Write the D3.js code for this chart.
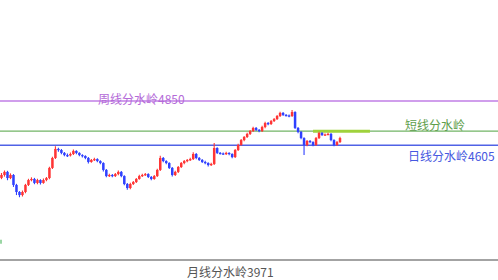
<!DOCTYPE html>
<html><head><meta charset="utf-8">
<script src="https://cdn.jsdelivr.net/npm/d3@7/dist/d3.min.js"></script>
<style>html,body{margin:0;padding:0;background:#fff;}svg{display:block;}</style>
</head><body>
<svg id="c" width="498" height="280"></svg>
<script>
const opens = [4425,4441,4458,4424,4441,4386,4347,4330,4347,4386,4413,4419,4397,4413,4397,4413,4424,4480,4535,4585,4579,4563,4551,4549,4557,4574,4563,4551,4546,4535,4513,4524,4529,4518,4507,4469,4435,4441,4435,4446,4458,4435,4391,4369,4391,4402,4419,4435,4441,4446,4430,4419,4435,4469,4535,4518,4507,4480,4441,4458,4485,4507,4518,4524,4529,4557,4535,4524,4513,4507,4496,4502,4590,4563,4560,4557,4563,4557,4540,4579,4607,4634,4651,4668,4684,4701,4690,4684,4706,4728,4723,4739,4750,4767,4784,4773,4770,4767,4789,4701,4679,4645,4607,4629,4623,4607,4645,4673,4662,4665,4668,4634,4607,4623];
const closes = [4441,4458,4424,4441,4386,4347,4330,4347,4386,4413,4419,4397,4413,4397,4413,4424,4480,4535,4585,4579,4563,4551,4549,4557,4574,4563,4551,4546,4535,4513,4524,4529,4518,4507,4469,4435,4441,4435,4446,4458,4435,4391,4369,4391,4402,4419,4435,4441,4446,4430,4419,4435,4469,4535,4518,4507,4480,4441,4458,4485,4507,4518,4524,4529,4557,4535,4524,4513,4507,4496,4502,4590,4563,4560,4557,4563,4557,4540,4579,4607,4634,4651,4668,4684,4701,4690,4684,4706,4728,4723,4739,4750,4767,4784,4773,4770,4767,4789,4701,4679,4645,4607,4629,4623,4607,4645,4673,4662,4665,4668,4634,4607,4623,4645];
const highs = [4452,4466,4464,4450,4446,4392,4352,4355,4392,4420,4428,4425,4420,4418,4421,4430,4486,4542,4600,4592,4584,4568,4560,4565,4582,4578,4567,4556,4550,4540,4530,4536,4534,4522,4512,4474,4448,4446,4452,4466,4463,4440,4396,4398,4408,4425,4442,4448,4452,4451,4435,4441,4475,4548,4540,4523,4512,4485,4464,4491,4513,4524,4530,4536,4566,4562,4540,4529,4519,4512,4508,4618,4595,4568,4565,4569,4567,4561,4585,4614,4640,4657,4674,4690,4708,4706,4695,4713,4735,4734,4745,4756,4773,4790,4789,4778,4775,4800,4794,4706,4684,4650,4635,4634,4628,4651,4680,4678,4671,4674,4673,4638,4629,4652];
const lows = [4418,4432,4412,4418,4375,4330,4318,4322,4340,4380,4406,4390,4390,4388,4392,4407,4418,4474,4530,4570,4556,4545,4540,4543,4552,4556,4545,4538,4528,4505,4508,4518,4512,4500,4460,4428,4430,4428,4430,4440,4428,4384,4360,4362,4386,4396,4414,4430,4436,4424,4412,4414,4430,4463,4512,4500,4474,4432,4436,4452,4480,4501,4512,4518,4524,4528,4518,4507,4500,4488,4490,4496,4557,4554,4551,4552,4550,4533,4535,4574,4602,4628,4646,4662,4679,4684,4677,4679,4700,4716,4718,4734,4745,4762,4767,4764,4760,4762,4695,4672,4638,4551,4600,4616,4600,4602,4640,4656,4657,4660,4628,4600,4602,4618];

const levelValues = [4850, 4683, 4605, 3971];
const levelLabels = ["周线分水岭4850", "短线分水岭", "日线分水岭4605", "月线分水岭3971"];
const shortZone = {from: 104, to: 123, value: 4683};
const sideMark = [{i: 0, value: 4072}];

const svg = d3.select("#c");
const W = 498, H = 280;
const n = closes.length;
const x = d3.scaleLinear().domain([0, n - 1]).range([1.5, 340]);
const y = d3.scaleLinear().domain([4850, 3971]).range([101, 260]);

const lineColors = ["#c07ee6", "#72b466", "#5062e6", "#a3a3a3"];
const lineWidths = [1.6, 1.3, 1.6, 2.2];
const labelColors = ["#b46ad8", "#5e9e4c", "#4658e0", "#555555"];
const labelX = [98, 405, 408, 187];
const labelDy = [3, -1.5, 15.5, 17];

svg.append("g").selectAll("line").data(levelValues).join("line")
  .attr("x1", 0).attr("x2", W)
  .attr("y1", d => y(d)).attr("y2", d => y(d))
  .attr("stroke", (d, i) => lineColors[i])
  .attr("stroke-width", (d, i) => lineWidths[i]);

svg.append("line")
  .attr("x1", x(shortZone.from)).attr("x2", x(shortZone.to))
  .attr("y1", y(shortZone.value)).attr("y2", y(shortZone.value))
  .attr("stroke", "#9fd23c").attr("stroke-width", 3);

svg.append("g").selectAll("rect").data(sideMark).join("rect")
  .attr("x", d => x(d.i) - 1.5).attr("y", d => y(d.value) - 2)
  .attr("width", 2).attr("height", 4).attr("fill", "#9ad6a4");

const data = closes.map((c, i) => ({i, o: opens[i], c, h: highs[i], l: lows[i]}));
const col = d => d.c >= d.o ? "#ff3434" : "#2f40ff";
const g = svg.append("g");
g.selectAll("line.w").data(data).join("line").attr("class", "w")
  .attr("x1", d => x(d.i)).attr("x2", d => x(d.i))
  .attr("y1", d => y(d.h)).attr("y2", d => y(d.l))
  .attr("stroke", col).attr("stroke-width", 1.1);
g.selectAll("rect.b").data(data).join("rect").attr("class", "b")
  .attr("x", d => x(d.i) - 1.25)
  .attr("width", 2.5)
  .attr("y", d => y(Math.max(d.o, d.c)))
  .attr("height", d => Math.max(1.2, Math.abs(y(d.o) - y(d.c))))
  .attr("fill", col);

svg.append("g").selectAll("text").data(levelValues).join("text")
  .attr("x", (d, i) => labelX[i])
  .attr("y", (d, i) => y(d) + labelDy[i])
  .attr("fill", (d, i) => labelColors[i])
  .attr("font-family", "'Noto Sans CJK SC', 'Noto Sans', sans-serif")
  .attr("font-size", 12)
  .text((d, i) => levelLabels[i]);
</script>
</body></html>
